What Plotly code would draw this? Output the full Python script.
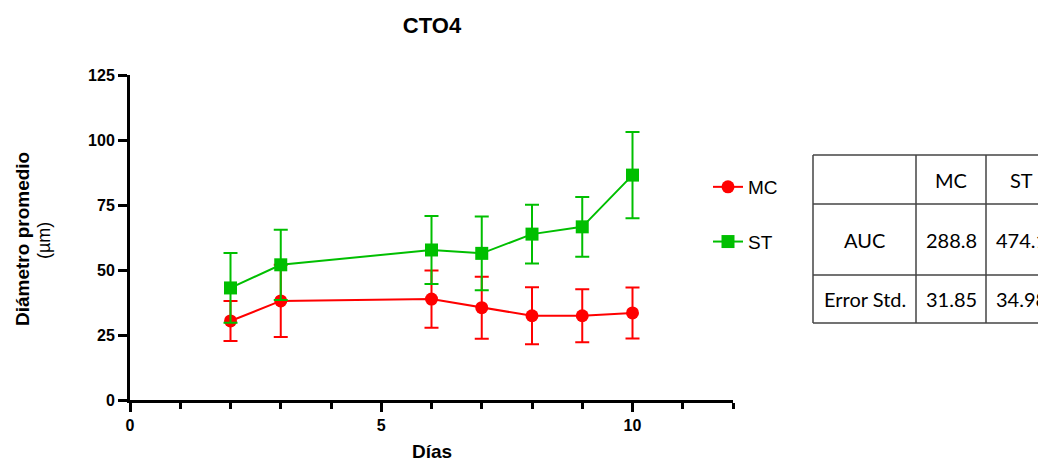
import plotly.graph_objects as go

dias = [2, 3, 6, 7, 8, 9, 10]
mc_mean = [30.4, 38.1, 38.8, 35.5, 32.4, 32.4, 33.5]
mc_err = [7.7, 13.9, 11.0, 11.9, 11.0, 10.2, 9.8]
st_mean = [43.1, 52.0, 57.7, 56.4, 63.8, 66.6, 86.5]
st_err = [13.4, 13.5, 13.1, 14.2, 11.3, 11.5, 16.6]

table_cols = ["", "MC", "ST"]
table_rows = [["AUC", "288.8", "474.1"], ["Error Std.", "31.85", "34.98"]]

# page body has an 8px margin: work in screen pixels and shift by OFF
OFF = 8
W, H = 1046 - OFF, 461 - OFF
SL, SR, ST_, SB = 130, 733, 75, 400           # plot area in screen pixels
L, R, T, B = SL - OFF, SR - OFF, ST_ - OFF, SB - OFF


def px(sx):
    return (sx - SL) / (SR - SL)


def py(sy):
    return 1 - (sy - ST_) / (SB - ST_)


fig = go.Figure()
fig.add_trace(go.Scatter(
    x=dias, y=mc_mean, name="MC", mode="lines+markers", legendgroup="mc",
    line=dict(color="#ff0000", width=2),
    marker=dict(symbol="circle", size=13, color="#ff0000"),
    error_y=dict(type="data", array=mc_err, visible=True, color="#ff0000", thickness=2, width=7),
))
fig.add_trace(go.Scatter(
    x=dias, y=st_mean, name="ST", mode="lines+markers", legendgroup="st",
    line=dict(color="#00bf00", width=2),
    marker=dict(symbol="square", size=13, color="#00bf00"),
    error_y=dict(type="data", array=st_err, visible=True, color="#00bf00", thickness=2, width=7),
))

FAM = "Liberation Sans, Arial"
axis_font = dict(family=FAM, size=16, color="black", weight="bold")

fig.update_layout(
    width=W, height=H,
    margin=dict(l=L, r=W - R, t=T, b=H - B, autoexpand=False),
    plot_bgcolor="white", paper_bgcolor="white",
    title=dict(text="<b>CTO4</b>", x=px(432), xref="paper", xanchor="center",
               y=1 - (25 - OFF) / H, yanchor="middle",
               font=dict(family=FAM, size=22, color="black")),
    xaxis=dict(range=[0, 12], tickvals=[0, 5, 10], showgrid=False, zeroline=False, automargin=False,
               showline=True, linecolor="black", linewidth=3,
               ticks="outside", ticklen=9, tickwidth=3, tickcolor="black",
               minor=dict(dtick=1, ticks="outside", ticklen=6, tickwidth=2.5, tickcolor="black"),
               tickfont=axis_font),
    yaxis=dict(range=[0, 125], tickvals=[0, 25, 50, 75, 100, 125], showgrid=False, zeroline=False, automargin=False,
               showline=True, linecolor="black", linewidth=3,
               ticks="outside", ticklen=9, tickwidth=3, tickcolor="black",
               tickfont=axis_font),
    legend=dict(x=px(708), y=py(168), xanchor="left", yanchor="top",
                traceorder="grouped", tracegroupgap=27,
                font=dict(family=FAM, size=19, color="black")),
    showlegend=True,
)

# axis titles
fig.add_annotation(text="<b>Días</b>", xref="paper", yref="paper", x=px(432), y=py(451),
                   showarrow=False, xanchor="center", yanchor="middle",
                   font=dict(family=FAM, size=19, color="black"))
fig.add_annotation(text="<b>Diámetro promedio</b>",
                   xref="paper", yref="paper", x=px(22), y=py(239), textangle=-90,
                   showarrow=False, xanchor="center", yanchor="middle",
                   font=dict(family=FAM, size=19, color="black"))
fig.add_annotation(text="(µm)",
                   xref="paper", yref="paper", x=px(44), y=py(241), textangle=-90,
                   showarrow=False, xanchor="center", yanchor="middle",
                   font=dict(family=FAM, size=18, color="black"))

# table
col_x = [813, 916, 986, 1060]
row_y = [155, 204, 275, 323]
text_x = [864.5, 951, 1021]

for x in col_x[:3]:
    fig.add_shape(type="line", xref="paper", yref="paper", x0=px(x), x1=px(x), y0=py(row_y[0]), y1=py(row_y[-1]),
                  line=dict(color="#444444", width=1.5))
for y in row_y:
    fig.add_shape(type="line", xref="paper", yref="paper", x0=px(col_x[0]), x1=px(col_x[-1]), y0=py(y), y1=py(y),
                  line=dict(color="#444444", width=1.5))

tfont = dict(family="Lato, Open Sans, sans-serif", size=20, color="black")
rows = [table_cols] + table_rows
for ri, row in enumerate(rows):
    yc = (row_y[ri] + row_y[ri + 1]) / 2
    for ci, txt in enumerate(row):
        if not txt:
            continue
        fig.add_annotation(text=txt, xref="paper", yref="paper", x=px(text_x[ci]), y=py(yc),
                           showarrow=False, xanchor="center", yanchor="middle", font=tfont)

fig.write_html("out.html")
